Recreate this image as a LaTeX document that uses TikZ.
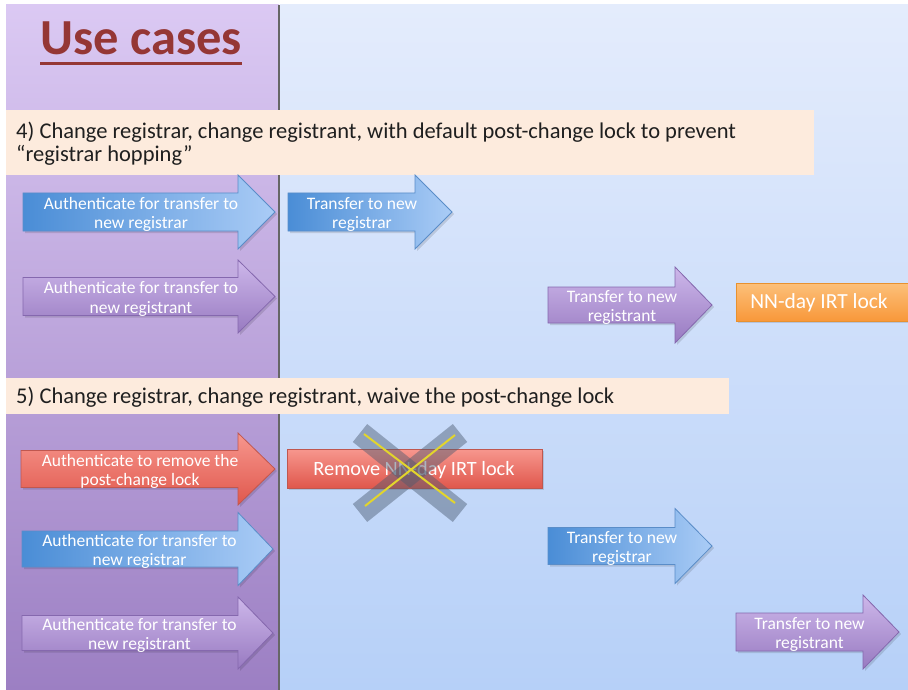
\documentclass[tikz,border=0pt]{standalone}
\usepackage{fontspec}
\setmainfont{Carlito}
\definecolor{leftT}{HTML}{DBC9F3}
\definecolor{leftB}{HTML}{9C7FC3}
\definecolor{rightT}{HTML}{E4ECFC}
\definecolor{rightB}{HTML}{B6D0F8}
\definecolor{titlered}{HTML}{953735}
\definecolor{peach}{HTML}{FDEBDD}
\definecolor{blueL}{HTML}{4A8DD6}
\definecolor{blueR}{HTML}{AACCF6}
\definecolor{blueD}{HTML}{5A8DC8}
\definecolor{purL}{HTML}{CDB7EA}
\definecolor{purD}{HTML}{987AC1}
\definecolor{purB}{HTML}{8568AE}
\definecolor{redL}{HTML}{F7978E}
\definecolor{redD}{HTML}{E0574C}
\definecolor{redB}{HTML}{C0574F}
\definecolor{orL}{HTML}{FCC07A}
\definecolor{orD}{HTML}{F8983A}
\definecolor{orB}{HTML}{E8912F}
\definecolor{xgrey}{HTML}{4A5A70}
\definecolor{xyellow}{HTML}{E2D52C}
\tikzset{
  arrtext/.style={text=white, font=\fontsize{17.5}{19.5}\selectfont, align=center, inner sep=0pt},
  boxtext/.style={text=white, inner sep=0pt},
  bluearr/.style={left color=blueL, right color=blueR, draw=blueD, line width=0.8pt},
  purarr/.style={top color=purL, bottom color=purD, draw=purB, line width=0.8pt},
  redarr/.style={top color=redL, bottom color=redD, draw=redB, line width=0.8pt},
  orbox/.style={top color=orL, bottom color=orD, draw=orB, line width=0.8pt},
  hdrbox/.style={fill=peach},
  hdrtext/.style={font=\fontsize{22.5}{22.5}\selectfont, text=black!88, align=left, anchor=base west, inner sep=0pt},
  shadowfill/.style={fill=black, opacity=0.12},
  xband/.style={draw=xgrey, opacity=0.45, line width=23pt},
  xline/.style={draw=xyellow, line width=2pt},
}
% #1 style, #2 name, #3 x1, #4 xb, #5 xtip, #6 yc, #7 body half, #8 head half, #9 text
\newcommand{\blockarr}[9]{%
  \fill[shadowfill] (#3+2,#6-#7+2) -- (#4+2,#6-#7+2) -- (#4+2,#6-#8+2) -- (#5+2,#6+2) -- (#4+2,#6+#8+2) -- (#4+2,#6+#7+2) -- (#3+2,#6+#7+2) -- cycle;
  \shadedraw[#1] (#3,#6-#7) -- (#4,#6-#7) -- (#4,#6-#8) -- (#5,#6) -- (#4,#6+#8) -- (#4,#6+#7) -- (#3,#6+#7) -- cycle;
  \node[arrtext] (#2) at ({(#3+#5)/2-8},#6+2.5) {#9};
}
\begin{document}
\begin{tikzpicture}[x=1pt,y=-1pt]
\useasboundingbox (0,0) rectangle (908,690);
\fill[white] (0,0) rectangle (908,690);
% panels
\shade[top color=leftT, bottom color=leftB] (6,5) rectangle (279,690);
\shade[top color=rightT, bottom color=rightB] (280,5) rectangle (908,690);
\draw[line width=1.5pt, color=black!60] (279.2,5) -- (279.2,690);
% title
\node[font=\fontsize{50.5}{52}\bfseries, text=titlered, anchor=base, inner sep=0pt] (title) at (141,55) {Use cases};
\draw[titlered, line width=2.6pt] ([yshift=-8.5pt]title.base west) -- ([yshift=-8.5pt]title.base east);
% header 4
\fill[hdrbox] (6,110) rectangle (814,175);
\node[hdrtext] (h4) at (16,161) {4) Change registrar, change registrant, with default post-change lock to prevent\\“registrar hopping”};
% section 4 arrows
\blockarr{bluearr}{a1}{23}{238}{275}{212}{19}{37}{Authenticate for transfer to\\new registrar}
\blockarr{purarr}{a2}{23}{238}{275}{296.5}{19}{36.5}{Authenticate for transfer to\\new registrant}
\blockarr{bluearr}{t1}{288}{415}{452}{212}{19}{37}{Transfer to new\\registrar}
\blockarr{purarr}{t2}{548}{675}{712}{305}{18}{38}{Transfer to new\\registrant}
\fill[shadowfill] (738,285) rectangle (917,323);
\shadedraw[orbox] (736,283) rectangle (915,321);
\node[boxtext, font=\fontsize{21.5}{24}\selectfont] (lock) at (819,303) {NN-day IRT lock};
% header 5
\fill[hdrbox] (6,378) rectangle (729,414);
\node[hdrtext] (h5) at (16,403.5) {5) Change registrar, change registrant, waive the post-change lock};
% section 5 arrows
\blockarr{redarr}{r1}{21}{238}{275}{469}{18.5}{36}{Authenticate to remove the\\post-change lock}
\fill[shadowfill] (289,451) rectangle (544,490);
\shadedraw[redarr] (287,449) rectangle (542,488);
\node[boxtext, font=\fontsize{20.3}{23}\selectfont] (remove) at (414,470) {Remove NN-day IRT lock};
\draw[xband] (360,433) -- (460,513);
\draw[xband] (460,433) -- (360,513);
\draw[xline] (364,434) -- (455,503);
\draw[xline] (455,435) -- (365,506);
\blockarr{bluearr}{b2}{22}{238}{273}{549}{18}{36.5}{Authenticate for transfer to\\new registrar}
\blockarr{bluearr}{t3}{548}{675}{712}{546}{18.5}{37.5}{Transfer to new\\registrar}
\blockarr{purarr}{p3}{22}{238}{273}{633}{17.5}{36}{Authenticate for transfer to\\new registrant}
\blockarr{purarr}{t4}{736}{863}{899}{632}{19}{37}{Transfer to new\\registrant}
\end{tikzpicture}
\end{document}
